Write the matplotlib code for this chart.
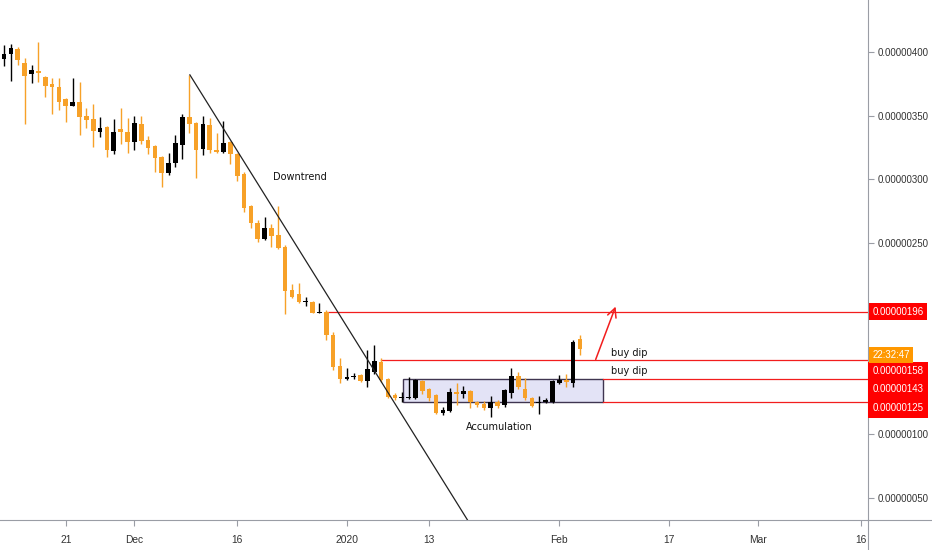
import datetime as dt
import matplotlib
matplotlib.use("Agg")
import matplotlib.pyplot as plt
import matplotlib.dates as mdates
from matplotlib import font_manager as fm
from matplotlib.lines import Line2D
from matplotlib.patches import Rectangle


def pick_narrow():
    # the reference uses a condensed face; take the narrowest one installed
    for name, size in [("Liberation Sans Narrow", 8.5), ("DejaVu Sans Condensed", 7.0),
                       ("Liberation Sans", 7.0)]:
        try:
            fm.findfont(fm.FontProperties(family=name), fallback_to_default=False)
            return name, size
        except ValueError:
            pass
    return "DejaVu Sans", 6.4


NARROW, NSIZE = pick_narrow()

# daily candles, prices in satoshi (1e-8)
start = dt.date(2019, 11, 12)
opens = [394.3, 398.4, 402.4, 391.6, 382.7, 385.1, 380.1, 375.1, 372.3, 362.8,
         357.8, 361.0, 349.7, 347.1, 337.2, 341.3, 322.2, 339.5, 336.9, 329.5,
         343.4, 330.9, 326.2, 317.8, 305.2, 312.6, 327.0, 348.7, 344.0, 323.6,
         342.7, 323.0, 321.4, 329.0, 319.9, 304.5, 279.0, 265.9, 253.4, 261.5,
         256.2, 247.0, 213.0, 209.8, 203.6, 203.6, 195.2, 196.0, 177.4, 153.3,
         143.5, 144.6, 145.9, 141.8, 148.9, 156.7, 142.9, 130.6, 128.2, 128.3,
         128.4, 141.6, 135.0, 130.6, 116.6, 118.0, 132.7, 131.1, 133.7, 125.3,
         123.3, 120.1, 125.3, 122.7, 131.8, 145.7, 135.0, 128.0, 124.0, 125.3,
         125.3, 140.3, 142.3, 140.3, 174.3]
highs = [405.5, 406.3, 404.0, 395.0, 389.8, 408.0, 381.0, 379.3, 379.3, 363.5,
         379.8, 376.2, 356.2, 359.0, 348.7, 342.0, 347.1, 355.8, 348.0, 349.7,
         349.7, 334.0, 327.0, 318.5, 320.9, 335.0, 351.3, 382.0, 345.0, 349.7,
         348.0, 336.0, 346.0, 330.0, 321.0, 305.5, 280.0, 268.0, 270.0, 265.0,
         279.0, 248.0, 218.0, 218.5, 207.5, 204.5, 202.5, 197.0, 180.0, 160.0,
         152.0, 148.0, 147.0, 166.0, 169.8, 160.0, 144.0, 132.0, 133.0, 145.0,
         143.5, 142.5, 136.0, 131.5, 121.0, 136.0, 140.0, 138.0, 134.5, 126.0,
         126.0, 130.0, 127.0, 135.0, 151.5, 149.0, 144.0, 129.0, 130.0, 128.0,
         142.5, 146.0, 147.0, 174.0, 178.0]
lows = [389.2, 377.2, 389.8, 343.2, 375.6, 376.7, 364.9, 351.0, 354.4, 345.0,
        357.3, 334.8, 340.5, 325.4, 333.5, 317.8, 319.9, 327.7, 320.4, 323.0,
        328.0, 320.0, 306.0, 293.7, 303.4, 310.0, 315.7, 336.1, 301.3, 319.0,
        321.0, 320.5, 320.5, 312.0, 299.0, 274.0, 262.0, 250.5, 252.5, 247.0,
        245.0, 194.5, 207.0, 202.5, 200.5, 194.8, 195.0, 174.0, 150.5, 140.0,
        142.0, 143.0, 141.0, 136.6, 147.0, 141.0, 128.0, 126.5, 125.0, 127.5,
        127.5, 131.5, 126.0, 115.5, 114.5, 117.0, 123.0, 128.0, 120.0, 121.5,
        118.5, 113.0, 120.0, 121.0, 128.0, 135.0, 126.5, 121.0, 116.0, 124.0,
        124.5, 139.0, 137.0, 137.0, 162.0]
closes = [398.4, 402.9, 393.7, 381.4, 385.9, 383.3, 373.5, 372.7, 361.0, 357.8,
          361.0, 349.2, 346.6, 338.0, 340.0, 323.0, 337.4, 337.4, 329.1, 344.0,
          330.3, 324.8, 316.5, 304.7, 313.1, 328.3, 349.2, 343.2, 323.0, 343.4,
          323.0, 321.2, 328.7, 319.9, 302.8, 277.2, 265.6, 252.9, 261.5, 255.5,
          246.2, 212.0, 207.8, 203.6, 204.2, 195.3, 195.8, 177.7, 152.8, 143.3,
          144.0, 145.2, 141.5, 150.7, 157.5, 142.3, 129.3, 128.0, 128.8, 129.2,
          142.3, 133.7, 128.4, 116.2, 118.8, 132.7, 131.3, 133.7, 125.3, 122.7,
          120.1, 125.0, 121.9, 134.5, 145.7, 136.6, 128.0, 121.9, 125.3, 126.6,
          141.8, 142.3, 140.5, 172.0, 166.5]

# drawings (days counted from the first candle)
levels = [196, 158, 143, 125]
level_start_day = [47, 55, 87.4, 87.4]
box_days = [58.2, 87.4]
box_prices = [125, 143]
trend_days = [27.1, 67.6]
trend_prices = [382, 32.4]
arrow_days = [86.3, 89.2]
arrow_prices = [158.5, 200]
countdown = "22:32:47"

tick_dates = [dt.date(2019, 11, 21), dt.date(2019, 12, 1), dt.date(2019, 12, 16),
              dt.date(2020, 1, 1), dt.date(2020, 1, 13), dt.date(2020, 2, 1),
              dt.date(2020, 2, 17), dt.date(2020, 3, 1), dt.date(2020, 3, 16)]
tick_labels = ["21", "Dec", "16", "2020", "13", "Feb", "17", "Mar", "16"]
# 150 and 200 sit under the level labels in the reference
price_ticks = [50, 100, 250, 300, 350, 400]

ORANGE = "#f7a128"
BLACK = "#000000"
RED = "#f21d1d"
AXIS = "#9a9da5"

x0 = mdates.date2num(start)
xs = [x0 + i for i in range(len(opens))]
colors = [BLACK if c >= o else ORANGE for o, c in zip(opens, closes)]

fig = plt.figure(figsize=(9.32, 5.5), dpi=100)
ax = fig.add_axes([0, 30 / 550, 868 / 932, 520 / 550])

ax.vlines(xs, lows, highs, colors=colors, linewidth=1, zorder=3)
bottoms = [min(o, c) for o, c in zip(opens, closes)]
heights = [max(abs(c - o), 0.9) for o, c in zip(opens, closes)]
ax.bar(xs, heights, bottom=bottoms, width=0.68, color=colors, linewidth=0, zorder=4)

# accumulation box
ax.add_patch(Rectangle((x0 + box_days[0], box_prices[0]), box_days[1] - box_days[0],
                       box_prices[1] - box_prices[0], facecolor="#e3e3f6",
                       edgecolor="#3f3550", linewidth=1, zorder=2))

xmin = x0 - 0.6
xmax = xmin + 868 / 6.855
for lv, sd in zip(levels, level_start_day):
    ax.plot([x0 + sd, xmax], [lv, lv], color=RED, linewidth=0.9, zorder=2.5)

ax.plot([x0 + d for d in trend_days], trend_prices, color="#222222", linewidth=0.9, zorder=5)

ax.annotate("", xy=(x0 + arrow_days[1], arrow_prices[1]),
            xytext=(x0 + arrow_days[0], arrow_prices[0]),
            arrowprops=dict(arrowstyle="->", color=RED, lw=1.1, mutation_scale=16,
                            shrinkA=0, shrinkB=0), zorder=5)

ax.text(x0 + 43.2, 301.8, "Downtrend", fontsize=7, ha="center", va="center", color="#111111")
ax.text(x0 + 72.2, 105.7, "Accumulation", fontsize=7, ha="center", va="center", color="#111111")
ax.text(x0 + 88.6, 163.8, "buy dip", fontsize=7, ha="left", va="center", color="#111111")
ax.text(x0 + 88.6, 149.7, "buy dip", fontsize=7, ha="left", va="center", color="#111111")

ax.set_xlim(xmin, xmax)
ax.set_ylim(32.4, 440.8)

ax.set_xticks([mdates.date2num(d) for d in tick_dates])
ax.set_xticklabels(tick_labels, family=NARROW, fontsize=NSIZE * 1.05, color="#333333")
ax.tick_params(axis="x", direction="out", length=4, width=0.8, color=AXIS, pad=7)

ax.yaxis.tick_right()
ax.set_yticks(price_ticks)
ax.set_yticklabels([f"{v / 1e8:.8f}" for v in price_ticks], family=NARROW,
                   fontsize=NSIZE, color="#333333")
ax.tick_params(axis="y", direction="out", length=4, width=0.8, color=AXIS, pad=3)

for side in ["top", "left"]:
    ax.spines[side].set_visible(False)
ax.spines["bottom"].set_color(AXIS)
ax.spines["right"].set_color(AXIS)
fig.add_artist(Line2D([868 / 932, 1], [30 / 550, 30 / 550], color=AXIS, linewidth=0.8))
fig.add_artist(Line2D([868 / 932, 868 / 932], [0, 30 / 550], color=AXIS, linewidth=0.8))

# price labels on the scale
label_text = [f"{v / 1e8:.8f}" for v in levels]
label_shift = [0, -8, -7.4, -4.3]
label_pad = [0.36, 0.48, 0.48, 0.48]
for txt, lv, sh, pd_ in zip(label_text, levels, label_shift, label_pad):
    ax.annotate(txt, xy=(1, lv), xycoords=("axes fraction", "data"),
                xytext=(3, sh), textcoords="offset points", va="center", ha="left",
                fontsize=NSIZE, family=NARROW, color="white", annotation_clip=False,
                bbox=dict(boxstyle=f"square,pad={pd_}", fc="#ff0000", ec="none"))
ax.annotate(countdown, xy=(1, closes[-1]), xycoords=("axes fraction", "data"),
            xytext=(3, -4.3), textcoords="offset points", va="center", ha="left",
            fontsize=NSIZE, family=NARROW, color="white", annotation_clip=False,
            bbox=dict(boxstyle="square,pad=0.3", fc="#ff9800", ec="none"))

fig.savefig("out.png", dpi=100, facecolor="white")
